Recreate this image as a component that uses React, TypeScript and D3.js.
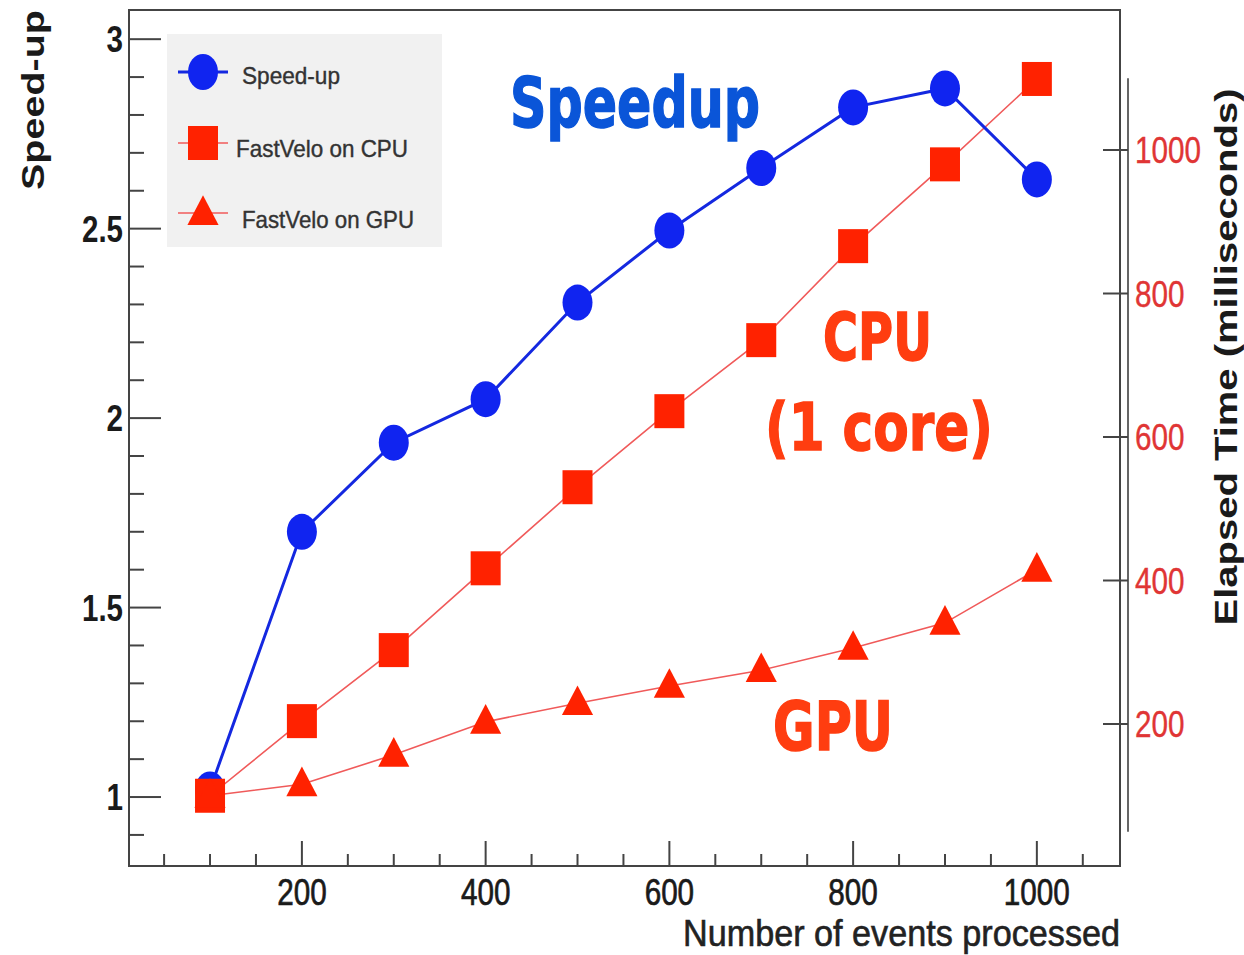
import React from 'react';
import * as d3 from 'd3';

// events processed per run
const events = [100, 200, 300, 400, 500, 600, 700, 800, 900, 1000];
// speed-up (left axis)
const speedup = [1.02, 1.70, 1.935, 2.05, 2.305, 2.495, 2.66, 2.82, 2.87, 2.63];
// elapsed time in ms (right axis)
const cpuTime = [100, 204, 303, 417, 530, 636, 735, 866, 980, 1099];
const gpuTime = [100, 116, 157, 203, 229, 253, 275, 306, 341, 415];

const xTicks = [200, 400, 600, 800, 1000];
const leftTicks = [1, 1.5, 2, 2.5, 3];
const rightTicks = [200, 400, 600, 800, 1000];

const W = 1244;
const H = 955;
const frame = { left: 129, right: 1120, top: 10, bottom: 866 };

const sans = "'Liberation Sans', Arial, sans-serif";
const heavy = "'DejaVu Sans', 'Open Sans', sans-serif";

// rough width of a narrow numeric label
const numWidth = (s: string) => s.split('').reduce((w, c) => w + (c === '.' ? 8 : 16.5), 0);

const App = () => {
  const x = d3.scaleLinear().domain([11.8, 1090.5]).range([frame.left, frame.right]);
  const yL = d3.scaleLinear().domain([0.818, 3.077]).range([frame.bottom, frame.top]);
  const yR = d3.scaleLinear().domain([0, 1100]).range([867.5, 78.25]);

  const xMinor = d3.range(50, 1051, 50);
  const yMinor = d3.range(0.9, 3.01, 0.1).map((v) => Math.round(v * 10) / 10);

  const speedLine = d3.line<number>()
    .x((_, i) => x(events[i]))
    .y((d) => yL(d));
  const timeLine = d3.line<number>()
    .x((_, i) => x(events[i]))
    .y((d) => yR(d));

  const tri = d3.symbol().type(d3.symbolTriangle).size(420)();

  return (
    <svg width={W} height={H} style={{ display: 'block', position: 'absolute', left: 0, top: 0 }}>
      <rect x={0} y={0} width={W} height={H} fill="#fff" />

      {/* legend box */}
      <rect x={167} y={34} width={275} height={213} fill="#f1f1f1" />

      {/* frame */}
      <rect x={frame.left} y={frame.top} width={frame.right - frame.left} height={frame.bottom - frame.top}
        fill="none" stroke="#444" strokeWidth={2} />

      {/* x axis ticks */}
      {xMinor.map((v) => (
        <line key={'xm' + v} x1={x(v)} x2={x(v)} y1={frame.bottom} y2={frame.bottom - (v % 200 === 0 ? 25 : 12)}
          stroke="#444" strokeWidth={2} />
      ))}
      {xTicks.map((v) => (
        <text key={'xl' + v} x={x(v)} y={905} textAnchor="middle" fontFamily={sans} fontSize={37} fill="#1a1a1a"
          stroke="#1a1a1a" strokeWidth={0.7} textLength={numWidth(String(v))} lengthAdjust="spacingAndGlyphs">{v}</text>
      ))}
      <text x={1120} y={946} textAnchor="end" fontFamily={sans} fontSize={36} fill="#222" stroke="#222" strokeWidth={0.6}
        textLength={437} lengthAdjust="spacingAndGlyphs">Number of events processed</text>

      {/* left axis */}
      {yMinor.map((v) => (
        <line key={'ym' + v} x1={frame.left} x2={frame.left + (Math.abs(v * 2 - Math.round(v * 2)) < 1e-6 ? 32 : 15)}
          y1={yL(v)} y2={yL(v)} stroke="#444" strokeWidth={2} />
      ))}
      {leftTicks.map((v) => (
        <text key={'yl' + v} x={123} y={yL(v) + 13} textAnchor="end" fontFamily={sans} fontWeight="bold" fontSize={36}
          fill="#1a1a1a" textLength={numWidth(String(v))} lengthAdjust="spacingAndGlyphs">{v}</text>
      ))}
      <text transform="translate(44,100) rotate(-90)" textAnchor="middle" fontFamily={sans} fontWeight="bold"
        fontSize={32} fill="#1a1a1a" textLength={180} lengthAdjust="spacingAndGlyphs">Speed-up</text>

      {/* right axis */}
      <line x1={1128} x2={1128} y1={yR(50)} y2={yR(1100)} stroke="#666" strokeWidth={2} />
      {rightTicks.map((v) => (
        <g key={'yr' + v}>
          <line x1={1103} x2={1128} y1={yR(v)} y2={yR(v)} stroke="#444" strokeWidth={2} />
          <text x={1135} y={yR(v) + 13} fontFamily={sans} fontSize={37} fill="#e03535" stroke="#e03535" strokeWidth={0.4}
            textLength={numWidth(String(v))} lengthAdjust="spacingAndGlyphs">{v}</text>
        </g>
      ))}
      <text transform="translate(1237,357) rotate(-90)" textAnchor="middle" fontFamily={sans} fontWeight="bold"
        fontSize={32} fill="#1a1a1a" textLength={537} lengthAdjust="spacingAndGlyphs">Elapsed Time (milliseconds)</text>

      {/* series */}
      <path d={timeLine(cpuTime) || ''} fill="none" stroke="#f05a5a" strokeWidth={1.6} />
      <path d={timeLine(gpuTime) || ''} fill="none" stroke="#f05a5a" strokeWidth={1.6} />
      <path d={speedLine(speedup) || ''} fill="none" stroke="#1428e0" strokeWidth={3} />
      {speedup.map((v, i) => (
        <ellipse key={'s' + i} cx={x(events[i])} cy={yL(v)} rx={15} ry={18} fill="#1024f0" />
      ))}
      {cpuTime.map((v, i) => (
        <rect key={'c' + i} x={x(events[i]) - 15} y={yR(v) - 17} width={30} height={34} fill="#ff2200" />
      ))}
      {gpuTime.map((v, i) => (
        <path key={'g' + i} d={tri || ''} transform={`translate(${x(events[i])},${yR(v) + 2}) scale(1,1.1)`} fill="#ff2200" />
      ))}

      {/* legend entries */}
      <line x1={178} x2={228} y1={72} y2={72} stroke="#1428e0" strokeWidth={3} />
      <ellipse cx={203} cy={72} rx={15} ry={18} fill="#1024f0" />
      <text x={242} y={84} fontFamily={sans} fontSize={24} fill="#333" stroke="#333" strokeWidth={0.4}
        textLength={98} lengthAdjust="spacingAndGlyphs">Speed-up</text>

      <line x1={178} x2={228} y1={143} y2={143} stroke="#f05a5a" strokeWidth={1.6} />
      <rect x={188} y={126} width={30} height={34} fill="#ff2200" />
      <text x={236} y={157} fontFamily={sans} fontSize={24} fill="#333" stroke="#333" strokeWidth={0.4}
        textLength={172} lengthAdjust="spacingAndGlyphs">FastVelo on CPU</text>

      <line x1={178} x2={228} y1={213} y2={213} stroke="#f05a5a" strokeWidth={1.6} />
      <path d={tri || ''} transform="translate(203,215) scale(1,1.1)" fill="#ff2200" />
      <text x={242} y={228} fontFamily={sans} fontSize={24} fill="#333" stroke="#333" strokeWidth={0.4}
        textLength={172} lengthAdjust="spacingAndGlyphs">FastVelo on GPU</text>

      {/* annotations */}
      <text x={510} y={127} fontFamily={heavy} fontWeight="bold" fontSize={70} fill="#0a55d8" stroke="#0a55d8" strokeWidth={1.5}
        textLength={250} lengthAdjust="spacingAndGlyphs">Speedup</text>
      <text x={823} y={360} fontFamily={heavy} fontWeight="bold" fontSize={66} fill="#ff3d10" stroke="#ff3d10" strokeWidth={1.5}
        textLength={109} lengthAdjust="spacingAndGlyphs">CPU</text>
      <text x={765} y={450} fontFamily={heavy} fontWeight="bold" fontSize={66} fill="#ff3d10" stroke="#ff3d10" strokeWidth={1.5}
        textLength={228} lengthAdjust="spacingAndGlyphs">(1 core)</text>
      <text x={773} y={750} fontFamily={heavy} fontWeight="bold" fontSize={68} fill="#ff3d10" stroke="#ff3d10" strokeWidth={1.5}
        textLength={120} lengthAdjust="spacingAndGlyphs">GPU</text>
    </svg>
  );
};

export default App;
